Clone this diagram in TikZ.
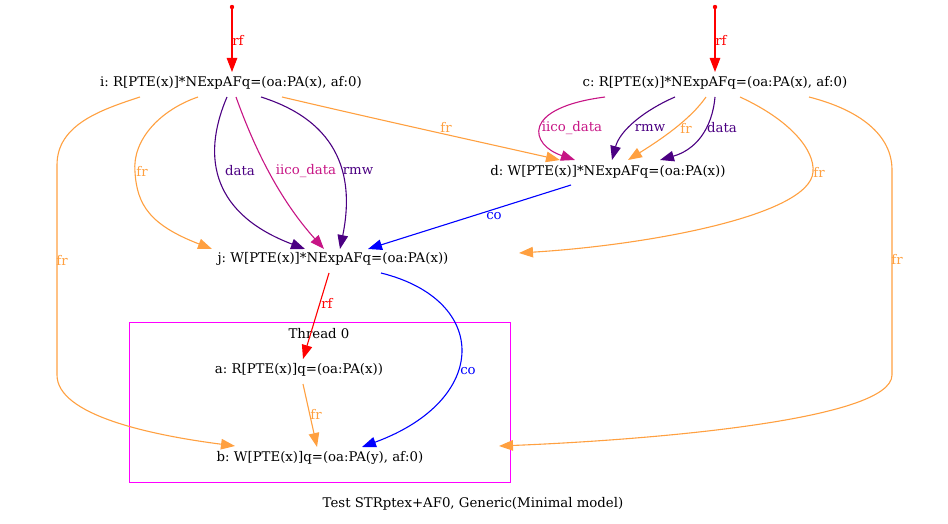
\documentclass[tikz,border=0pt]{standalone}
\usepackage{fontspec}
\setmainfont{DejaVu Serif}
\usetikzlibrary{arrows.meta}
\definecolor{frc}{RGB}{255,160,64}
\definecolor{ind}{RGB}{75,0,130}
\definecolor{mvr}{RGB}{199,21,133}
\definecolor{clus}{RGB}{255,0,255}
\frenchspacing
\tikzset{
  ev/.style={inner sep=0pt, font=\fontsize{13.3}{15}\selectfont},
  lab/.style={inner sep=0pt, font=\fontsize{13.3}{15}\selectfont},
  edge/.style={line width=1.1pt, -{Triangle[length=14pt,width=10.5pt]}},
  fr/.style={edge, draw=frc},
  rfe/.style={edge, draw=red},
  coe/.style={edge, draw=blue},
  dat/.style={edge, draw=ind},
  iico/.style={edge, draw=mvr},
}
\begin{document}
\begin{tikzpicture}[x=1pt,y=-1pt]
\useasboundingbox (0,0) rectangle (948,524);
% cluster
\draw[clus, line width=1pt] (129,322) rectangle (510.5,482);
\node[ev] (th) at (319,334) {Thread 0};
% nodes
\node[ev] (i) at (231,83) {i: R[PTE(x)]*NExpAFq=(oa:PA(x), af:0)};
\node[ev] (c) at (715,83) {c: R[PTE(x)]*NExpAFq=(oa:PA(x), af:0)};
\node[ev] (d) at (608,172) {d: W[PTE(x)]*NExpAFq=(oa:PA(x))};
\node[ev] (j) at (333,259) {j: W[PTE(x)]*NExpAFq=(oa:PA(x))};
\node[ev] (a) at (299,370) {a: R[PTE(x)]q=(oa:PA(x))};
\node[ev] (b) at (320,458) {b: W[PTE(x)]q=(oa:PA(y), af:0)};
\node[ev] (cap) at (473,504) {Test STRptex+AF0, Generic(Minimal model)};
% initial dots
\coordinate (ti) at (232,7);
\coordinate (tc) at (715,7);
\fill[red] (ti) circle (2.2);
\fill[red] (tc) circle (2.2);
\draw[rfe] (ti) -- ([shift={(1,-11)}]i.center);
\node[lab, text=red] at (238,40) {rf};
\draw[rfe] (tc) -- ([shift={(0,-11)}]c.center);
\node[lab, text=red] at (721,40) {rf};
% i edges
\draw[fr] ([shift={(-33,14)}]i.center) .. controls (160,110) and (132,140) .. (135,172)
  .. controls (137,205) and (150,225) .. ([shift={(-121,-10)}]j.center);
\node[lab, text=frc] at (142,171) {fr};
\draw[fr] ([shift={(-91,14)}]i.center) .. controls (100,110) and (57,125) .. (57,165)
  -- (57,375) .. controls (57,415) and (150,435) .. ([shift={(-85,-12)}]b.center);
\node[lab, text=frc] at (62,260) {fr};
\draw[dat] ([shift={(-4,14)}]i.center) .. controls (200,160) and (215,215) .. ([shift={(-28,-10)}]j.center);
\node[lab, text=ind] at (240,171) {data};
\draw[iico] ([shift={(5,14)}]i.center) .. controls (255,150) and (280,200) .. ([shift={(-9,-10)}]j.center);
\node[lab, text=mvr] at (306,171) {iico\_data};
\draw[dat] ([shift={(30,14)}]i.center) .. controls (350,125) and (352,190) .. ([shift={(7,-10)}]j.center);
\node[lab, text=ind] at (358,171) {rmw};
\draw[fr] ([shift={(51,14)}]i.center) .. controls (380,120) and (480,142) .. ([shift={(-48,-12)}]d.center);
\node[lab, text=frc] at (446,127) {fr};
% c edges
\draw[iico] ([shift={(-110,14)}]c.center) .. controls (520,108) and (530,145) .. ([shift={(-33,-12)}]d.center);
\node[lab, text=mvr] at (572,128) {iico\_data};
\draw[dat] ([shift={(-40,14)}]c.center) .. controls (645,110) and (620,130) .. ([shift={(4,-12)}]d.center);
\node[lab, text=ind] at (650,128) {rmw};
\draw[fr] ([shift={(-9,14)}]c.center) .. controls (690,120) and (660,140) .. ([shift={(20,-12)}]d.center);
\node[lab, text=frc] at (686,128) {fr};
\draw[dat] ([shift={(0,14)}]c.center) .. controls (712,130) and (695,150) .. ([shift={(52,-12)}]d.center);
\node[lab, text=ind] at (722,128) {data};
\draw[fr] ([shift={(25,14)}]c.center) .. controls (790,120) and (815,150) .. (813,172)
  .. controls (810,215) and (650,245) .. ([shift={(186,-6)}]j.center);
\node[lab, text=frc] at (819,172) {fr};
\draw[fr] ([shift={(94,14)}]c.center) .. controls (860,110) and (892,135) .. (892,170)
  -- (892,375) .. controls (892,420) and (650,440) .. ([shift={(179,-12)}]b.center);
\node[lab, text=frc] at (897,259) {fr};
% d, j, a edges
\draw[coe] ([shift={(-37,13)}]d.center) -- ([shift={(35,-10)}]j.center);
\node[lab, text=blue] at (494,216) {co};
\draw[rfe] ([shift={(-4,14)}]j.center) -- ([shift={(4,-11)}]a.center);
\node[lab, text=red] at (327,303) {rf};
\draw[coe] ([shift={(48,14)}]j.center) .. controls (490,300) and (490,400) .. ([shift={(42,-11)}]b.center);
\node[lab, text=blue] at (468,371) {co};
\draw[fr] ([shift={(4,14)}]a.center) -- ([shift={(-3,-11)}]b.center);
\node[lab, text=frc] at (316,414) {fr};
\end{tikzpicture}
\end{document}
